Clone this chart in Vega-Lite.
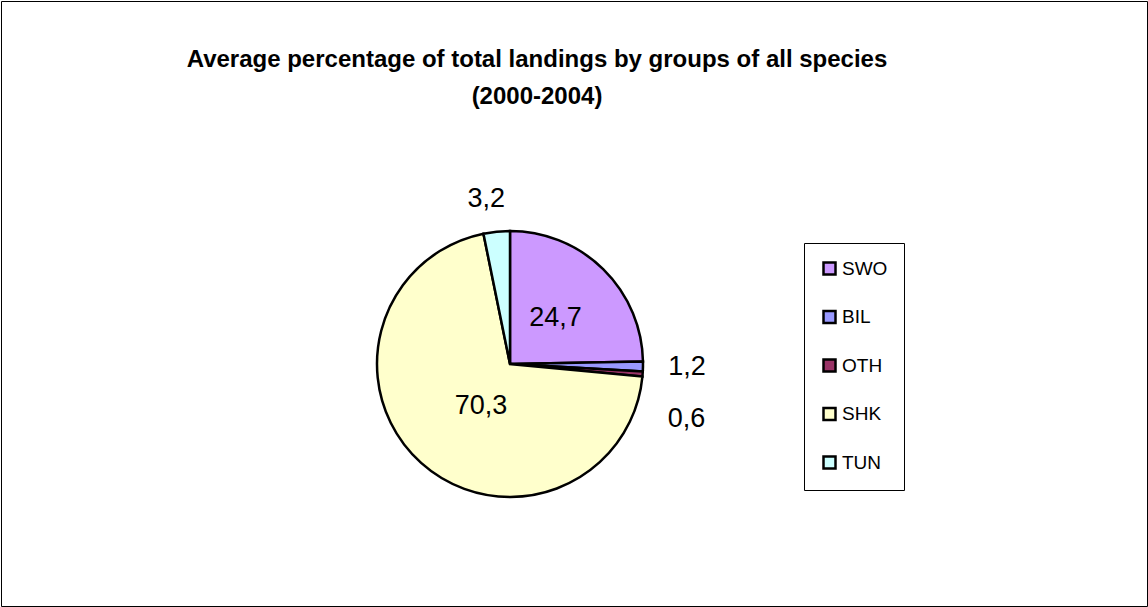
{
  "$schema": "https://vega.github.io/schema/vega-lite/v6.json",
  "autosize": "none",
  "width": 1146,
  "height": 605,
  "padding": {"left": 1, "top": 1, "right": 1, "bottom": 1},
  "background": "white",
  "view": {"stroke": "black", "strokeWidth": 1, "fill": "white"},
  "title": {
    "text": ["Average percentage of total landings by groups of all species", "(2000-2004)"],
    "font": "Liberation Sans",
    "fontSize": 24,
    "fontWeight": "bold",
    "color": "black",
    "anchor": "middle",
    "offset": -108,
    "dx": -37,
    "lineHeight": 37
  },
  "config": {
    "view": {"stroke": "black", "strokeWidth": 1},
    "legend": {"strokeColor": "black", "strokeWidth": 1, "fillColor": "white", "padding": 16}
  },
  "data": {
    "values": [
      {"grp": "SWO", "pct": 24.7, "lbl": "24,7", "ord": 1},
      {"grp": "BIL", "pct": 1.2, "lbl": "1,2", "ord": 2},
      {"grp": "OTH", "pct": 0.6, "lbl": "0,6", "ord": 3},
      {"grp": "SHK", "pct": 70.3, "lbl": "70,3", "ord": 4},
      {"grp": "TUN", "pct": 3.2, "lbl": "3,2", "ord": 5}
    ]
  },
  "encoding": {
    "theta": {"field": "pct", "type": "quantitative", "stack": true},
    "order": {"field": "ord", "type": "quantitative"}
  },
  "layer": [
    {
      "mark": {"type": "arc", "outerRadius": 133, "stroke": "black", "strokeWidth": 2.5, "x": {"expr": "width/2 - 64"}, "y": {"expr": "height/2 + 60.5"}},
      "encoding": {
        "color": {
          "field": "grp",
          "type": "nominal",
          "sort": ["SWO", "BIL", "OTH", "SHK", "TUN"],
          "scale": {"domain": ["SWO", "BIL", "OTH", "SHK", "TUN"], "range": ["#CC99FF", "#9999FF", "#993366", "#FFFFCC", "#CCFFFF"]},
          "legend": {
            "orient": "none",
            "legendX": 803,
            "legendY": 242,
            "title": null,
            "symbolType": "square",
            "symbolSize": 144,
            "symbolStrokeColor": "black",
            "symbolStrokeWidth": 2.5,
            "symbolOpacity": 1,
            "labelFont": "Liberation Sans",
            "labelFontSize": 19,
            "labelColor": "black",
            "labelOffset": 3,
            "rowPadding": 25.5
          }
        }
      }
    },
    {
      "mark": {"type": "text", "radius": 65, "font": "Liberation Sans", "fontSize": 27, "color": "black", "align": "center", "baseline": "middle", "x": {"expr": "width/2 - 64"}, "y": {"expr": "height/2 + 60.5"}},
      "encoding": {"text": {"condition": {"test": "datum.grp === 'SWO'", "field": "lbl", "type": "nominal"}, "value": ""}}
    },
    {
      "mark": {"type": "text", "radius": 51, "dx": 5, "dy": 4, "font": "Liberation Sans", "fontSize": 27, "color": "black", "align": "center", "baseline": "middle", "x": {"expr": "width/2 - 64"}, "y": {"expr": "height/2 + 60.5"}},
      "encoding": {"text": {"condition": {"test": "datum.grp === 'SHK'", "field": "lbl", "type": "nominal"}, "value": ""}}
    },
    {
      "mark": {"type": "text", "radius": 166, "dx": -7, "font": "Liberation Sans", "fontSize": 27, "color": "black", "align": "center", "baseline": "middle", "x": {"expr": "width/2 - 64"}, "y": {"expr": "height/2 + 60.5"}},
      "encoding": {"text": {"condition": {"test": "datum.grp === 'TUN'", "field": "lbl", "type": "nominal"}, "value": ""}}
    },
    {
      "mark": {"type": "text", "radius": 177, "font": "Liberation Sans", "fontSize": 27, "color": "black", "align": "center", "baseline": "middle", "x": {"expr": "width/2 - 64"}, "y": {"expr": "height/2 + 60.5"}},
      "encoding": {"text": {"condition": {"test": "datum.grp === 'BIL'", "field": "lbl", "type": "nominal"}, "value": ""}}
    },
    {
      "mark": {"type": "text", "radius": 177, "dy": 42, "font": "Liberation Sans", "fontSize": 27, "color": "black", "align": "center", "baseline": "middle", "x": {"expr": "width/2 - 64"}, "y": {"expr": "height/2 + 60.5"}},
      "encoding": {"text": {"condition": {"test": "datum.grp === 'OTH'", "field": "lbl", "type": "nominal"}, "value": ""}}
    }
  ]
}
